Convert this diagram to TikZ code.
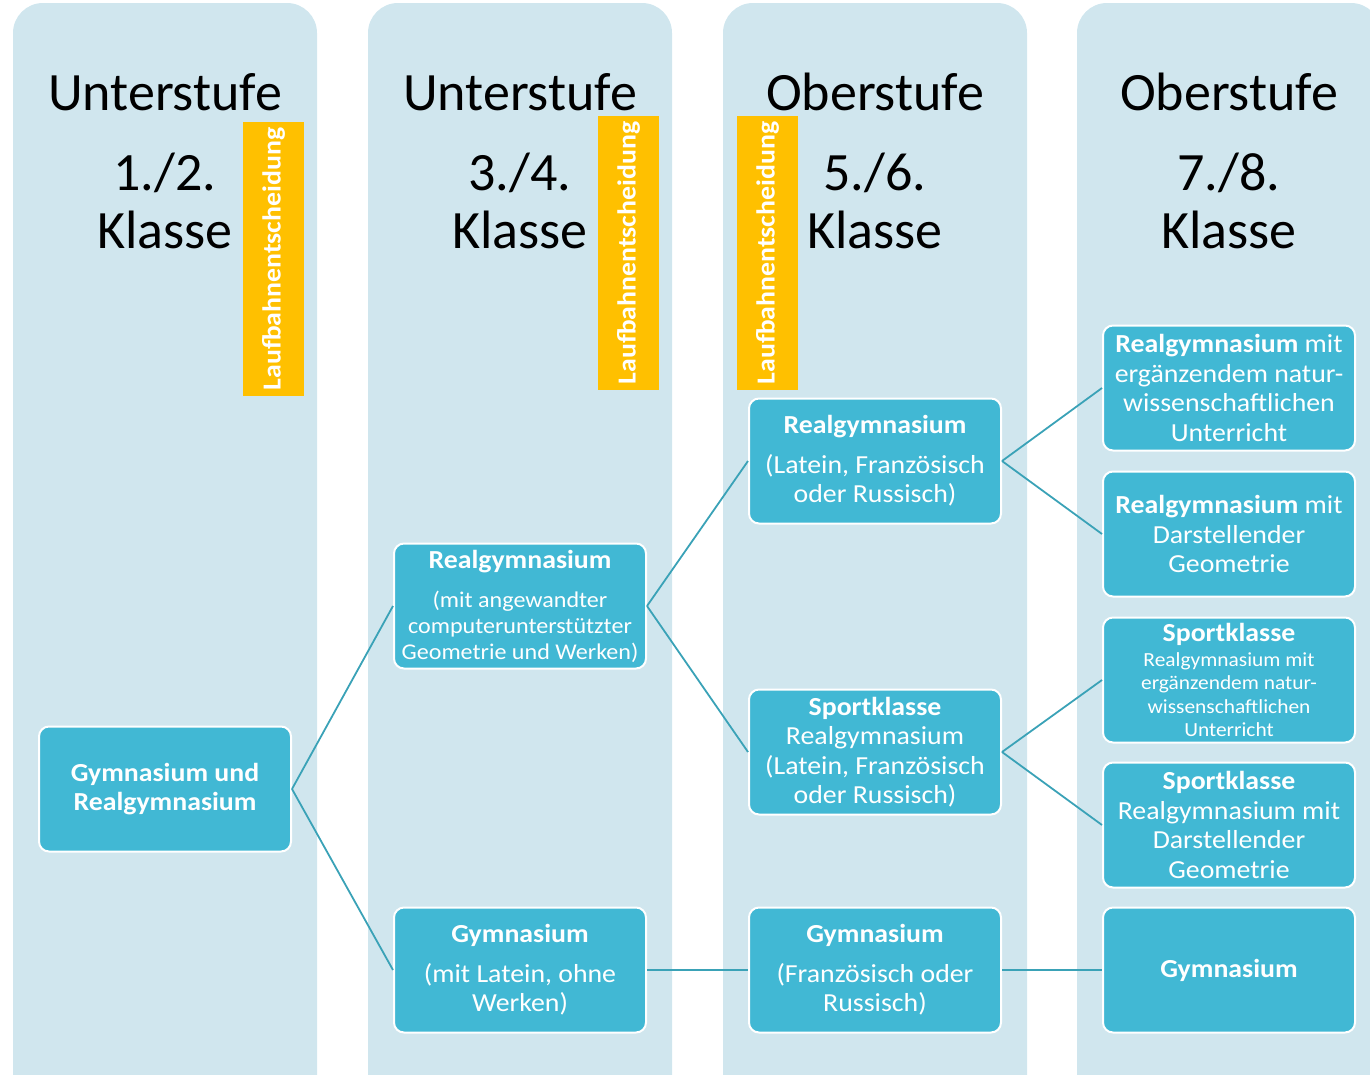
\documentclass[tikz,border=0pt]{standalone}
\usepackage{fontspec}
\setmainfont{Carlito}
\newfontfamily\widefont{Carlito}[FakeStretch=1.07]
\usetikzlibrary{positioning}
\usepackage{xcolor}

\definecolor{bandblue}{HTML}{D0E6EE}
\definecolor{boxblue}{HTML}{41B8D4}
\definecolor{linkblue}{HTML}{3AA2B7}
\definecolor{bahnorange}{HTML}{FFC000}

\newcommand{\boxfont}{\widefont\fontsize{26}{29.5}\selectfont}
\newcommand{\smallboxfont}{\widefont\fontsize{22.5}{26}\selectfont}
\newcommand{\tinyboxfont}{\widefont\fontsize{20}{23.5}\selectfont}

\begin{document}
\begin{tikzpicture}[x=1pt, y=-1pt, auto]
				\tikzstyle{band} = [fill=bandblue, rounded corners=30pt, minimum width=304pt, minimum height=1140pt, inner sep=0pt]
				\tikzstyle{stufe} = [font=\fontsize{54}{54}\selectfont, inner sep=0pt, anchor=base]
				\tikzstyle{bahn} = [fill=bahnorange, text=white, font=\widefont\fontsize{26}{26}\selectfont\bfseries, rotate=90, minimum width=274pt, minimum height=61pt, inner sep=0pt]
				\tikzstyle{school} = [fill=boxblue, draw=white, line width=2pt, rounded corners=10pt, text=white, minimum width=252pt, minimum height=125pt, align=center, font=\boxfont, inner sep=2pt]
				\tikzstyle{link} = [draw=linkblue, line width=1.8pt]
				
				\useasboundingbox (0,0) rectangle (1370,1074);
				
				% columns
				\node[band]		at (165, 573)	(col1)	{};
				\node[band]		at (520, 573)	(col2)	{};
				\node[band]		at (875, 573)	(col3)	{};
				\node[band]		at (1229, 573)	(col4)	{};
				
				\node[stufe]	at (165, 110)	(stufe1)	{Unterstufe};
				\node[stufe]	at (520, 110)	(stufe2)	{Unterstufe};
				\node[stufe]	at (875, 110)	(stufe3)	{Oberstufe};
				\node[stufe]	at (1229, 110)	(stufe4)	{Oberstufe};
				\node[stufe]	at (165, 190)	(jahr1)	{1./2.};
				\node[stufe]	at (520, 190)	(jahr2)	{3./4.};
				\node[stufe]	at (875, 190)	(jahr3)	{5./6.};
				\node[stufe]	at (1229, 190)	(jahr4)	{7./8.};
				\node[stufe]	at (165, 248)	(klasse1)	{Klasse};
				\node[stufe]	at (520, 248)	(klasse2)	{Klasse};
				\node[stufe]	at (875, 248)	(klasse3)	{Klasse};
				\node[stufe]	at (1229, 248)	(klasse4)	{Klasse};
				
				\node[bahn]		at (273.5, 259)	(bahn1)	{Laufbahnentscheidung};
				\node[bahn]		at (628.5, 253)	(bahn2)	{Laufbahnentscheidung};
				\node[bahn]		at (767.5, 253)	(bahn3)	{Laufbahnentscheidung};
				
				% schools
				\node[school]	at (165, 789)	(gymreal)	{\textbf{Gymnasium und}\\\textbf{Realgymnasium}};
				\node[school, font=\smallboxfont]	at (520, 606)	(real34)	{{\boxfont\bfseries Realgymnasium}\\[13pt](mit angewandter\\computerunterstützter\\Geometrie und Werken)};
				\node[school]	at (520, 970)	(gym34)		{\textbf{Gymnasium}\\[10pt](mit Latein, ohne\\Werken)};
				\node[school]	at (875, 461)	(real56)	{\textbf{Realgymnasium}\\[10pt](Latein, Französisch\\oder Russisch)};
				\node[school]	at (875, 752)	(sport56)	{\textbf{Sportklasse}\\Realgymnasium\\(Latein, Französisch\\oder Russisch)};
				\node[school]	at (875, 970)	(gym56)		{\textbf{Gymnasium}\\[10pt](Französisch oder\\Russisch)};
				\node[school]	at (1229, 388)	(realnat)	{\textbf{Realgymnasium} mit\\ergänzendem natur-\\wissenschaftlichen\\Unterricht};
				\node[school]	at (1229, 534)	(realdg)	{\textbf{Realgymnasium} mit\\Darstellender\\Geometrie};
				\node[school, font=\tinyboxfont]	at (1229, 680)	(sportnat)	{{\boxfont\bfseries Sportklasse}\\[1pt]Realgymnasium mit\\ergänzendem natur-\\wissenschaftlichen\\Unterricht};
				\node[school]	at (1229, 825)	(sportdg)	{\textbf{Sportklasse}\\Realgymnasium mit\\Darstellender\\Geometrie};
				\node[school]	at (1229, 970)	(gym78)		{\textbf{Gymnasium}};
				
				\path[link]
				(gymreal.east)	edge	(real34.west)
				(gymreal.east)	edge	(gym34.west)
				(real34.east)	edge	(real56.west)
				(real34.east)	edge	(sport56.west)
				(gym34.east)	edge	(gym56.west)
				(real56.east)	edge	(realnat.west)
				(real56.east)	edge	(realdg.west)
				(sport56.east)	edge	(sportnat.west)
				(sport56.east)	edge	(sportdg.west)
				(gym56.east)	edge	(gym78.west);
			\end{tikzpicture}
\end{document}
